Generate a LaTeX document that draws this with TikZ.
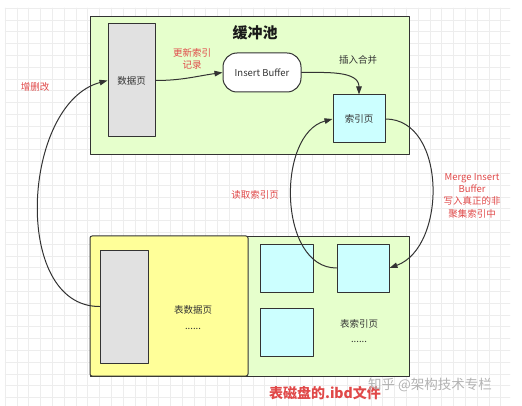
\documentclass[tikz,border=0pt]{standalone}
\usepackage{fontspec}
\setmainfont{Noto Sans CJK SC}
\usetikzlibrary{positioning,calc,arrows.meta}

\definecolor{poolgreen}{HTML}{E6FFCC}
\definecolor{pagegray}{HTML}{E1E1E1}
\definecolor{idxcyan}{HTML}{CCFFFF}
\definecolor{fileyellow}{HTML}{FFFF99}
\definecolor{notered}{HTML}{E04848}
\definecolor{edgegray}{HTML}{333333}
\definecolor{gridgray}{HTML}{EDEDED}

\tikzset{
	box/.style={draw=edgegray, line width=1pt, inner sep=0pt, text=edgegray, font=\fontsize{9.5}{11}\selectfont},
	note/.style={text=notered, align=center, inner sep=0pt, font=\fontsize{9.5}{12.3}\selectfont},
	flow/.style={->, draw=edgegray, line width=1pt}
}

\begin{document}
\begin{tikzpicture}[x=1pt, y=1pt, line cap=round, line join=round, >={Triangle[length=8pt,width=5.5pt]}]
		\useasboundingbox (0,0) rectangle (522,-406);
		% grid
		\begin{scope}[shift={(5,-8)}]
			\draw [gridgray, line width=0.5pt, step=11.8] (0,0) grid (505,-398);
		\end{scope}
		% buffer pool
		\node [box, fill=poolgreen, minimum width=319pt, minimum height=138pt] (pool) at (249.5,-86) {};
		\node [box, fill=pagegray, minimum width=47pt, minimum height=113pt] (datapage) at (131.5,-80.5) {数据页};
		\node [box, fill=white, rounded corners=14pt, minimum width=78pt, minimum height=39pt] (insbuf) at (262,-72.5) {Insert Buffer};
		\node [box, fill=idxcyan, minimum width=52pt, minimum height=48pt] (idxpage) at (359,-119) {索引页};
		% ibd file
		\node [box, fill=poolgreen, minimum width=319pt, minimum height=139pt] (diskbox) at (249.5,-306.5) {};
		\node [box, fill=fileyellow, rounded corners=2pt, minimum width=158pt, minimum height=140pt] (tblbox) at (169,-306) {};
		\node [box, fill=pagegray, minimum width=48pt, minimum height=113pt] (tblpage) at (124,-306.5) {};
		\node [box, fill=idxcyan, minimum width=53pt, minimum height=48pt] (idxa) at (286.5,-268) {};
		\node [box, fill=idxcyan, minimum width=52pt, minimum height=48pt] (idxb) at (363,-268) {};
		\node [box, fill=idxcyan, minimum width=53pt, minimum height=48pt] (idxc) at (286.5,-332) {};
		% arrows
		\draw [flow] (datapage.east) to[out=0, in=188] (insbuf.west);
		\draw [flow] (insbuf.east) to[out=0, in=90] (idxpage.north);
		\draw [flow] (tblpage.west) to[out=180, in=195] (datapage.west);
		\draw [flow] (idxb.west) to[out=180, in=195] (idxpage.west);
		\draw [flow] (idxpage.east) to[out=0, in=20, looseness=1.05] (idxb.east);
		% symbols
		\node [text=black!90, font=\fontsize{15}{17}\selectfont\bfseries] (pooltitle) at (255,-33) {缓冲池};
		\node [note] (updnote) at (192,-59) {更新索引\\记录};
		\node [text=edgegray, font=\fontsize{9.5}{11}\selectfont] (mergenote) at (358,-60) {插入合并};
		\node [note] (editnote) at (35,-87) {增删改};
		\node [note] (readnote) at (255,-195) {读取索引页};
		\node [note] (flushnote) at (472,-195.5) {Merge Insert\\Buffer\\写入真正的非\\聚集索引中};
		\node [text=edgegray, align=center, font=\fontsize{9.5}{16}\selectfont] (tbllabel) at (193,-318) {表数据页\\......};
		\node [text=edgegray, align=center, font=\fontsize{9.5}{15}\selectfont] (idxlabel) at (359,-331) {表索引页\\......};
		\node [text=notered, font=\fontsize{14}{16}\selectfont\bfseries] (filetitle) at (325,-393) {表磁盘的.ibd文件};
		\node [text=black!30, font=\fontsize{13.5}{15}\selectfont] (watermark) at (430,-385) {知乎 @架构技术专栏};
	\end{tikzpicture}
\end{document}
